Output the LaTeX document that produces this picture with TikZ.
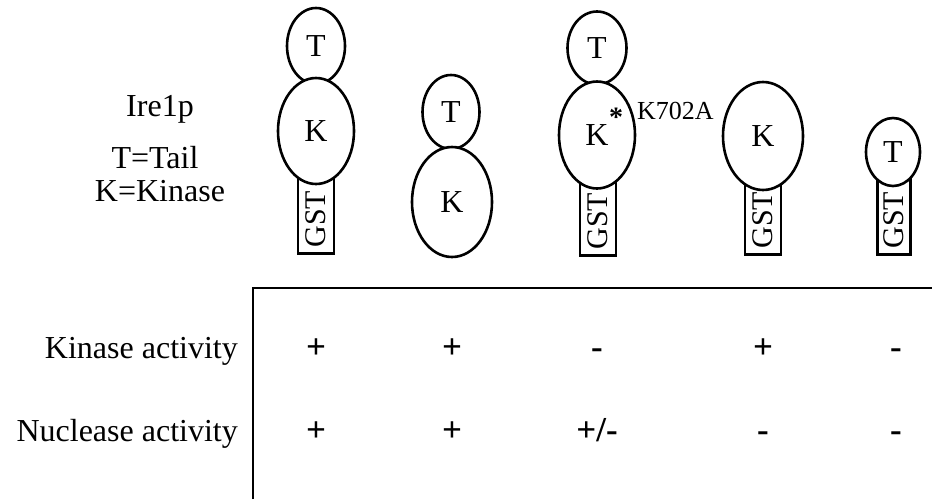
\documentclass[tikz,border=0pt]{standalone}
\usepackage{fontspec}
\setmainfont{Liberation Serif}
\usetikzlibrary{shapes.geometric}
\begin{document}
\begin{tikzpicture}[x=1pt,y=-1pt,
  dom/.style={draw, line width=2.6pt, fill=white, ellipse, inner sep=0pt,
    font=\fontsize{32}{36}\selectfont},
  tagbox/.style={draw, line width=2.6pt, fill=white, inner sep=0pt,
    minimum width=36pt, minimum height=85pt},
  tagtext/.style={rotate=90, inner sep=0pt, font=\fontsize{30}{34}\selectfont},
  lbl/.style={inner sep=0pt, font=\fontsize{32}{36}\selectfont},
  entry/.style={inner sep=0pt, anchor=base, font=\fontsize{35}{40}\selectfont\bfseries},
  rule/.style={line width=2.6pt}]
\useasboundingbox (0,0) rectangle (932,499);

% legend
\node[lbl, anchor=base] (name) at (160,116) {Ire1p};
\node[lbl, anchor=base] (keyT) at (155,168) {T=Tail};
\node[lbl, anchor=base] (keyK) at (160,201) {K=Kinase};

% construct 1: GST-K-T
\node[tagbox] (g1) at (316,211) {};
\node[tagtext] (g1t) at (316,219) {GST};
\node[dom, minimum width=58pt, minimum height=76pt] (t1) at (316,46) {T};
\node[dom, minimum width=76pt, minimum height=106pt] (k1) at (316,131) {K};

% construct 2: K-T without GST
\node[dom, minimum width=57pt, minimum height=74pt] (t2) at (451,112) {T};
\node[dom, minimum width=80pt, minimum height=110pt] (k2) at (452,202) {K};

% construct 3: GST-K(K702A)-T
\node[tagbox] (g3) at (598,213) {};
\node[tagtext] (g3t) at (598,221) {GST};
\node[dom, minimum width=59pt, minimum height=73pt] (t3) at (597,48) {T};
\node[dom, minimum width=76pt, minimum height=107pt] (k3) at (597,135) {K};
\node[inner sep=0pt, font=\fontsize{28}{30}\selectfont\bfseries] (star) at (616,117) {*};
\node[inner sep=0pt, anchor=base west, font=\fontsize{26}{30}\selectfont] (mut) at (637,119) {K702A};

% construct 4: GST-K
\node[tagbox] (g4) at (763,212) {};
\node[tagtext] (g4t) at (763,220) {GST};
\node[dom, minimum width=80pt, minimum height=108pt] (k4) at (763,136) {K};

% construct 5: GST-T
\node[tagbox, minimum width=33pt] (g5) at (894,212) {};
\node[tagtext] (g5t) at (894,220) {GST};
\node[dom, minimum width=54pt, minimum height=68pt] (t5) at (893,152) {T};

% results table frame
\coordinate (tl) at (253,288);
\coordinate (bl) at (253,499);
\coordinate (tr) at (932,288);
\draw[rule] (bl) -- (tl) -- (tr);

\node[lbl, anchor=base east] (rowA) at (238,358) {Kinase activity};
\node[lbl, anchor=base east] (rowB) at (238,441) {Nuclease activity};

\node[entry] (a1) at (316,358) {+};
\node[entry] (a2) at (452,358) {+};
\node[entry] (a3) at (597,358) {-};
\node[entry] (a4) at (763,358) {+};
\node[entry] (a5) at (896,358) {-};

\node[entry] (b1) at (316,441) {+};
\node[entry] (b2) at (452,441) {+};
\node[entry] (b3) at (597,441) {+/-};
\node[entry] (b4) at (763,441) {-};
\node[entry] (b5) at (896,441) {-};
\end{tikzpicture}
\end{document}
